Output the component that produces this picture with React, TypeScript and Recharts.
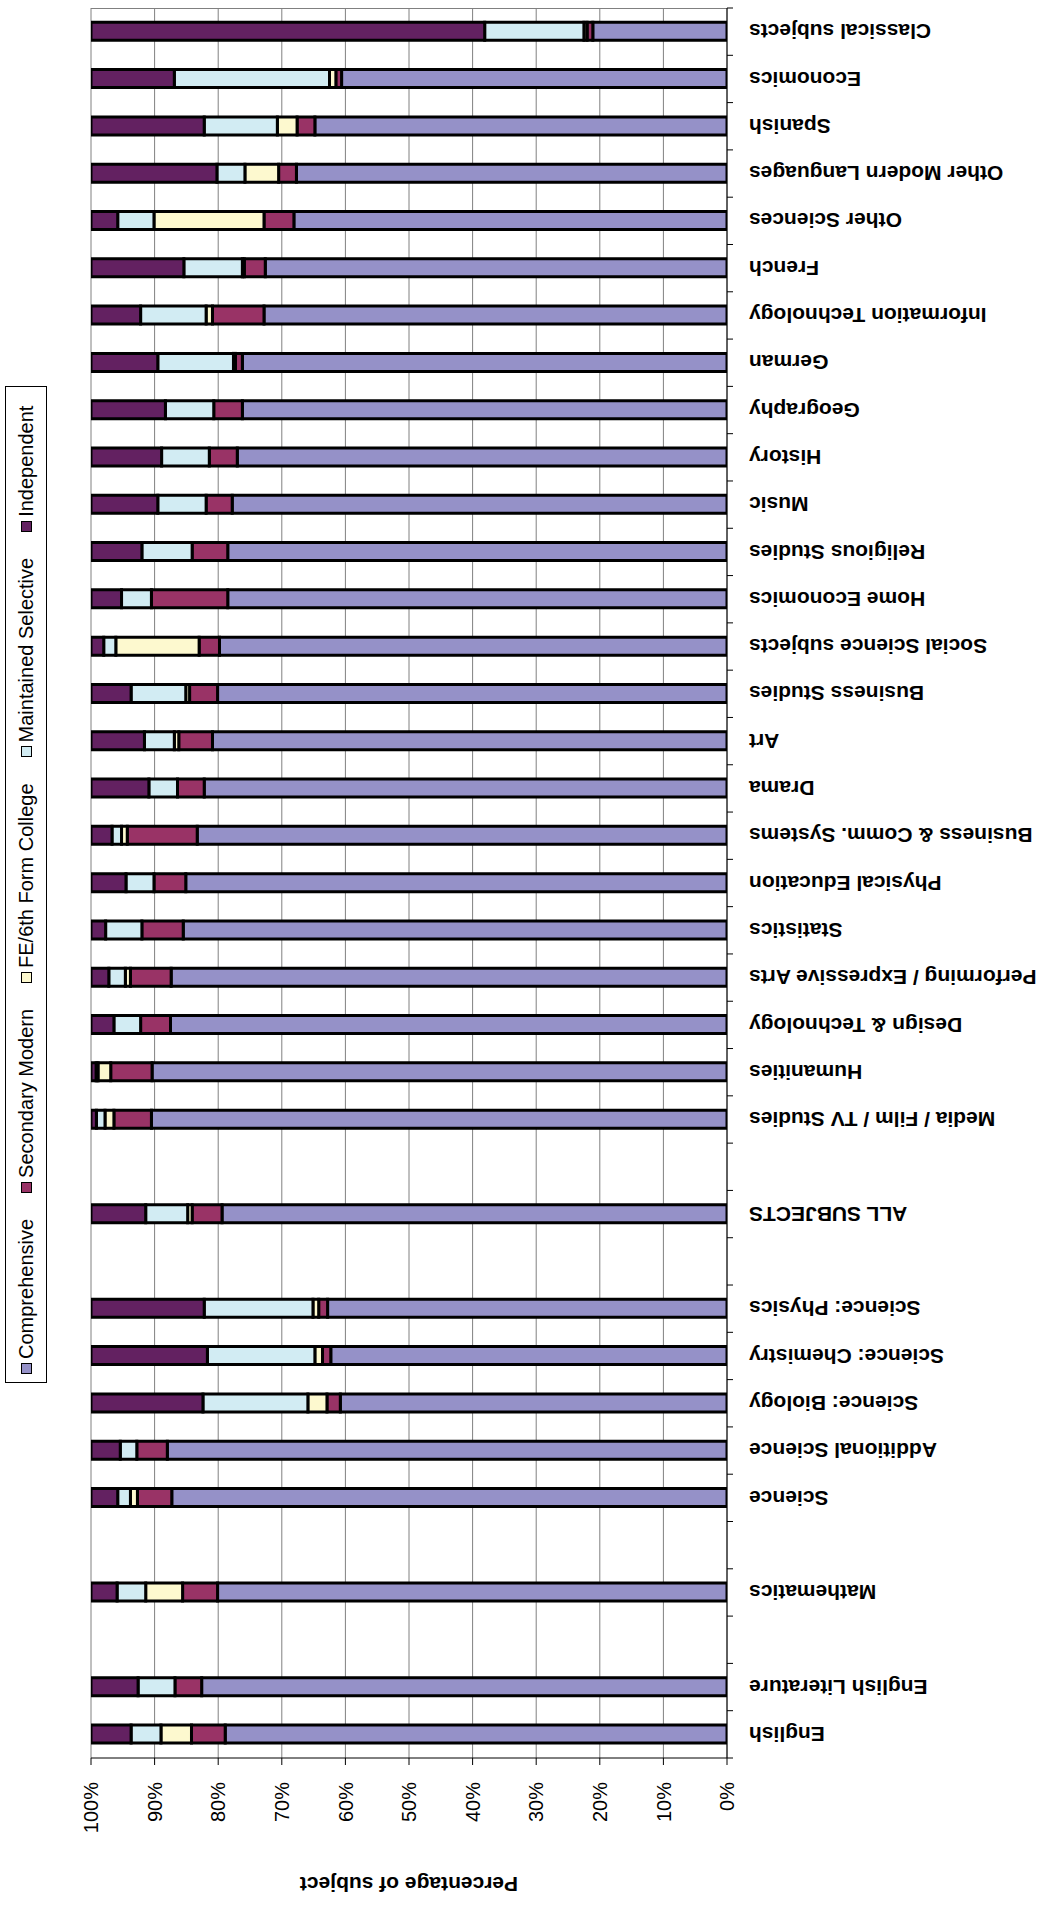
import React from "react";
import { BarChart, Bar, XAxis, YAxis, CartesianGrid, Label } from "recharts";

// Chart is laid out as a column chart, then turned 90deg counter-clockwise
const subjects = [
  "English", "English Literature", "", "Mathematics", "", "Science", "Additional Science",
  "Science: Biology", "Science: Chemistry", "Science: Physics", "", "ALL SUBJECTS", "",
  "Media / Film / TV Studies", "Humanities", "Design & Technology", "Performing / Expressive Arts",
  "Statistics", "Physical Education", "Business & Comm. Systems", "Drama", "Art", "Business Studies",
  "Social Science subjects", "Home Economics", "Religious Studies", "Music", "History", "Geography",
  "German", "Information Technology", "French", "Other Sciences", "Other Modern Languages",
  "Spanish", "Economics", "Classical subjects",
];

const comprehensive = [
  78.9, 82.6, null, 80.1, null, 87.3, 88.0, 60.8, 62.3, 62.8, null, 79.4, null,
  90.5, 90.4, 87.5, 87.4, 85.5, 85.1, 83.3, 82.2, 80.9, 80.1, 79.8, 78.5, 78.5, 77.8, 77.0, 76.2,
  76.2, 72.8, 72.6, 68.1, 67.7, 64.8, 60.6, 21.1,
];
const secondaryModern = [
  5.3, 4.2, null, 5.5, null, 5.4, 4.8, 2.1, 1.3, 1.4, null, 4.7, null,
  5.9, 6.5, 4.7, 6.4, 6.5, 5.0, 11.0, 4.2, 5.3, 4.4, 3.2, 12.0, 5.6, 4.1, 4.4, 4.5,
  1.1, 8.1, 3.3, 4.7, 2.8, 2.8, 0.9, 0.9,
];
const feCollege = [
  4.8, 0, null, 5.8, null, 1.1, 0, 3.0, 1.2, 0.9, null, 0.7, null,
  1.4, 2.0, 0, 0.8, 0, 0, 0.9, 0, 0.7, 0.6, 13.1, 0, 0, 0, 0, 0,
  0.3, 1.0, 0.3, 17.3, 5.3, 3.1, 1.0, 0.5,
];
const maintainedSelective = [
  4.7, 5.8, null, 4.5, null, 2.0, 2.6, 16.5, 16.9, 17.1, null, 6.6, null,
  1.35, 0.3, 4.2, 2.6, 5.7, 4.4, 1.5, 4.5, 4.7, 8.6, 1.9, 4.7, 7.9, 7.6, 7.5, 7.6,
  11.9, 10.3, 9.2, 5.7, 4.4, 11.5, 24.4, 15.6,
];
const independent = [
  6.3, 7.4, null, 4.1, null, 4.2, 4.6, 17.6, 18.3, 17.8, null, 8.6, null,
  0.85, 0.8, 3.6, 2.8, 2.3, 5.5, 3.3, 9.1, 8.4, 6.3, 2.0, 4.8, 8.0, 10.5, 11.1, 11.7,
  10.5, 7.8, 14.6, 4.2, 19.8, 17.8, 13.1, 61.9,
];
const percentTicks = [0, 10, 20, 30, 40, 50, 60, 70, 80, 90, 100];

const series = [
  { key: "comp", name: "Comprehensive", color: "#9591c8" },
  { key: "sm", name: "Secondary Modern", color: "#993366" },
  { key: "fe", name: "FE/6th Form College", color: "#fdf9cf" },
  { key: "ms", name: "Maintained Selective", color: "#d2ecf3" },
  { key: "ind", name: "Independent", color: "#632161" },
];

const rows = subjects.map((s, i) => ({
  key: "s" + i,
  comp: comprehensive[i],
  sm: secondaryModern[i],
  fe: feCollege[i],
  ms: maintainedSelective[i],
  ind: independent[i],
}));

const W = 1910;
const H = 1049;
const MARGIN = { top: 91, right: 8, bottom: 22, left: 0 };
const Y_AXIS_W = 152;
const PLOT_W = W - MARGIN.left - MARGIN.right - Y_AXIS_W;
const BAND = PLOT_W / rows.length;
const TICK_SIZE = 6;
const TICK_GAP = 16;
const FONT = "'Liberation Sans', Arial, sans-serif";

function CategoryTick(props: any) {
  const { x, y, index } = props;
  const axisY = y - TICK_SIZE - TICK_GAP;
  const left = x - BAND / 2;
  const right = x + BAND / 2;
  return (
    <g>
      <line x1={left} x2={left} y1={axisY} y2={axisY + TICK_SIZE} stroke="#000" />
      {index === rows.length - 1 && (
        <line x1={right} x2={right} y1={axisY} y2={axisY + TICK_SIZE} stroke="#000" />
      )}
      <text
        x={x}
        y={y}
        transform={`rotate(-90, ${x}, ${y})`}
        textAnchor="end"
        dy="0.35em"
        fontFamily={FONT}
        fontSize={21}
        fontWeight="bold"
        fill="#000"
      >
        {subjects[index]}
      </text>
    </g>
  );
}

function AxisTitle(props: any) {
  const vb = props.viewBox || {};
  const cx = (vb.x || 0) + 26;
  const cy = (vb.y || 0) + (vb.height || 0) / 2;
  return (
    <text
      x={cx}
      y={cy}
      transform={`rotate(-90, ${cx}, ${cy})`}
      textAnchor="middle"
      dy="0.35em"
      fontFamily={FONT}
      fontSize={21}
      fontWeight="bold"
      fill="#000"
    >
      Percentage of subject
    </text>
  );
}

function LegendBox() {
  return (
    <div
      style={{
        position: "absolute",
        left: 527,
        top: 5,
        width: 997,
        height: 42,
        boxSizing: "border-box",
        border: "1px solid #000",
        display: "flex",
        alignItems: "center",
        paddingLeft: 8,
        gap: 26,
        fontFamily: FONT,
        fontSize: 20,
        color: "#000",
        background: "#fff",
      }}
    >
      {series.map((s) => (
        <div key={s.key} style={{ display: "flex", alignItems: "center", whiteSpace: "nowrap" }}>
          <span
            style={{
              display: "inline-block",
              width: 9,
              height: 9,
              background: s.color,
              border: "1.5px solid #000",
              marginRight: 4,
            }}
          />
          <span>{s.name}</span>
        </div>
      ))}
    </div>
  );
}

export default function App() {
  return (
    <div
      style={{
        position: "absolute",
        left: 0,
        top: 0,
        width: H,
        height: W,
        overflow: "hidden",
        background: "#fff",
      }}
    >
      <div
        style={{
          position: "absolute",
          left: 0,
          top: 0,
          width: W,
          height: H,
          transformOrigin: "0 0",
          transform: `translate(0px, ${W}px) rotate(-90deg)`,
        }}
      >
        <BarChart width={W} height={H} data={rows} margin={MARGIN} barSize={18}>
          <CartesianGrid
            stroke="#808080"
            horizontal={true}
            vertical={true}
            verticalCoordinatesGenerator={({ offset }: any) => [offset.left + offset.width - 0.5]}
          />
          <XAxis
            dataKey="key"
            type="category"
            interval={0}
            height={300}
            tickLine={false}
            tickSize={TICK_SIZE}
            tickMargin={TICK_GAP}
            axisLine={{ stroke: "#000" }}
            tick={<CategoryTick />}
          />
          <YAxis
            type="number"
            domain={[0, 100]}
            ticks={percentTicks}
            width={Y_AXIS_W}
            tickSize={7}
            tickMargin={17}
            tickFormatter={(v: number) => v + "%"}
            axisLine={{ stroke: "#000" }}
            tickLine={{ stroke: "#000" }}
            tick={{ fontFamily: FONT, fontSize: 20, fill: "#000" }}
            allowDataOverflow
          >
            <Label content={<AxisTitle />} />
          </YAxis>
          {series.map((s) => (
            <Bar
              key={s.key}
              dataKey={s.key}
              name={s.name}
              stackId="school"
              fill={s.color}
              stroke="#000"
              strokeWidth={3}
              isAnimationActive={false}
            />
          ))}
        </BarChart>
        <LegendBox />
      </div>
    </div>
  );
}
